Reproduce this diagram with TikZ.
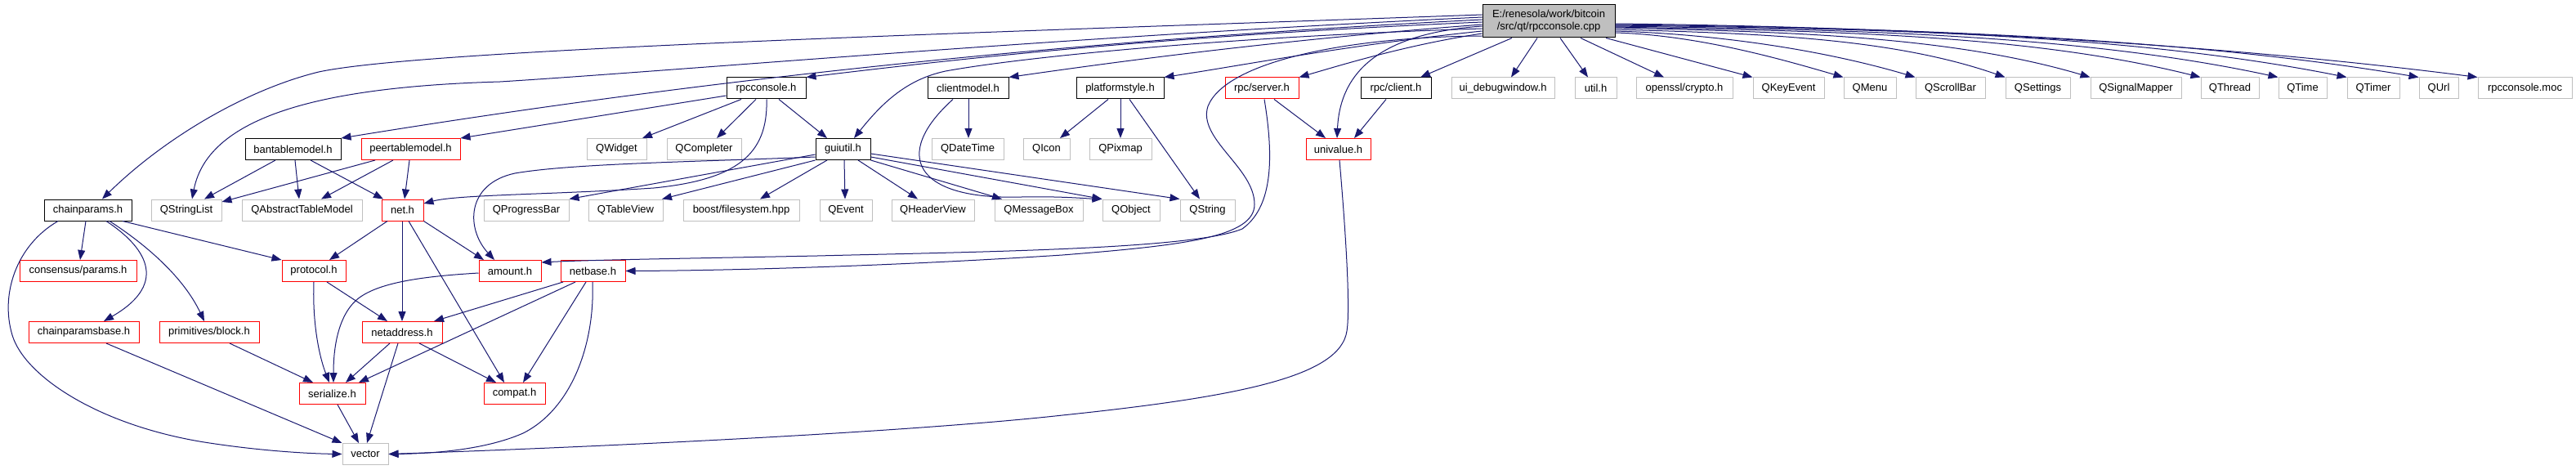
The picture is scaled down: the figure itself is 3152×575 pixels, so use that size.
\documentclass[tikz,border=0pt]{standalone}
\usepackage{fontspec}
\setmainfont{Liberation Sans}
\usetikzlibrary{arrows.meta}
\definecolor{edgec}{HTML}{191970}
\definecolor{grayb}{HTML}{BFBFBF}
\definecolor{redb}{HTML}{FF0000}
\tikzset{
  nd/.style={draw, rectangle, inner sep=0pt, minimum height=26pt, line width=1pt,
    font=\fontsize{13}{15}\selectfont, text=black, fill=white},
  gn/.style={nd, draw=grayb},
  bn/.style={nd, draw=black},
  rn/.style={nd, draw=redb},
  ed/.style={draw=edgec, line width=1pt, -{Triangle[length=12pt,width=9pt]}},
}
\begin{document}
\begin{tikzpicture}[x=1pt, y=-1pt]
\fill[white] (0,0) rectangle (3152,575);
\useasboundingbox (0,0) rectangle (3152,575);
% row 0
\node[bn, fill=grayb, minimum width=162pt, minimum height=40pt, align=center] (main) at (1895,26) {E:/renesola/work/bitcoin\\/src/qt/rpcconsole.cpp};
% row 1
\node[bn, minimum width=97pt] (rpcconsole) at (937.5,108) {rpcconsole.h};
\node[bn, minimum width=99pt] (clientmodel) at (1184.5,108) {clientmodel.h};
\node[bn, minimum width=107pt] (platformstyle) at (1370.5,108) {platformstyle.h};
\node[rn, minimum width=90pt] (rpcserver) at (1544,108) {rpc/server.h};
\node[bn, minimum width=86pt] (rpcclient) at (1708,108) {rpc/client.h};
\node[gn, minimum width=126pt] (uidebug) at (1839,108) {ui\_debugwindow.h};
\node[gn, minimum width=51pt] (util) at (1952.5,108) {util.h};
\node[gn, minimum width=118pt] (openssl) at (2061,108) {openssl/crypto.h};
\node[gn, minimum width=87pt] (qkeyevent) at (2188.5,108) {QKeyEvent};
\node[gn, minimum width=64pt] (qmenu) at (2288,108) {QMenu};
\node[gn, minimum width=85pt] (qscrollbar) at (2386.5,108) {QScrollBar};
\node[gn, minimum width=79pt] (qsettings) at (2493.5,108) {QSettings};
\node[gn, minimum width=111pt] (qsignalmapper) at (2613.5,108) {QSignalMapper};
\node[gn, minimum width=71pt] (qthread) at (2728.5,108) {QThread};
\node[gn, minimum width=59pt] (qtime) at (2817.5,108) {QTime};
\node[gn, minimum width=64pt] (qtimer) at (2904,108) {QTimer};
\node[gn, minimum width=48pt] (qurl) at (2984,108) {QUrl};
\node[gn, minimum width=115pt] (moc) at (3089.5,108) {rpcconsole.moc};
% row 2
\node[bn, minimum width=117pt] (bantable) at (358.5,182.5) {bantablemodel.h};
\node[rn, minimum width=121pt] (peertable) at (502.5,182.5) {peertablemodel.h};
\node[gn, minimum width=73pt] (qwidget) at (754.5,182.5) {QWidget};
\node[gn, minimum width=91pt] (qcompleter) at (861.5,182.5) {QCompleter};
\node[bn, minimum width=67pt] (guiutil) at (1031.5,182.5) {guiutil.h};
\node[gn, minimum width=88pt] (qdatetime) at (1184,182.5) {QDateTime};
\node[gn, minimum width=57pt] (qicon) at (1280.5,182.5) {QIcon};
\node[gn, minimum width=76pt] (qpixmap) at (1371,182.5) {QPixmap};
\node[rn, minimum width=79pt] (univalue) at (1637.5,182.5) {univalue.h};
% row 3
\node[bn, minimum width=107pt] (chainparams) at (107.5,257) {chainparams.h};
\node[gn, minimum width=86pt] (qstringlist) at (228,257) {QStringList};
\node[gn, minimum width=147pt] (qatm) at (369.5,257) {QAbstractTableModel};
\node[rn, minimum width=51pt] (net) at (492.5,257) {net.h};
\node[gn, minimum width=104pt] (qprogressbar) at (644,257) {QProgressBar};
\node[gn, minimum width=91pt] (qtableview) at (765.5,257) {QTableView};
\node[gn, minimum width=142pt] (boost) at (907,257) {boost/filesystem.hpp};
\node[gn, minimum width=64pt] (qevent) at (1035,257) {QEvent};
\node[gn, minimum width=101pt] (qheaderview) at (1141.5,257) {QHeaderView};
\node[gn, minimum width=108pt] (qmessagebox) at (1271,257) {QMessageBox};
\node[gn, minimum width=70pt] (qobject) at (1384,257) {QObject};
\node[gn, minimum width=67pt] (qstring) at (1477.5,257) {QString};
% row 4
\node[rn, minimum width=143pt] (consensus) at (95.5,331.5) {consensus/params.h};
\node[rn, minimum width=78pt] (protocol) at (384,331.5) {protocol.h};
\node[rn, minimum width=76pt] (amount) at (624,331.5) {amount.h};
\node[rn, minimum width=79pt] (netbase) at (725.5,331.5) {netbase.h};
% row 5
\node[rn, minimum width=135pt] (chainparamsbase) at (102.5,406.5) {chainparamsbase.h};
\node[rn, minimum width=122pt] (primblock) at (256,406.5) {primitives/block.h};
\node[rn, minimum width=98pt] (netaddress) at (492,406.5) {netaddress.h};
% row 6
\node[rn, minimum width=81pt] (serialize) at (406.5,481.5) {serialize.h};
\node[rn, minimum width=75pt] (compat) at (629.5,481.5) {compat.h};
% row 7
\node[gn, minimum width=56pt] (vector) at (447,555.5) {vector};

% edges from main, left side
\draw[ed] (main.west |- 0,18) .. controls (1200,40) and (520,60) .. (390,88) .. controls (300,110) and (200,170) .. (125,0 |- chainparams.north);
\draw[ed] (main.west |- 0,21) .. controls (1300,45) and (850,85) .. (612,100) .. controls (400,106) and (255,140) .. (235,0 |- qstringlist.north);
\draw[ed] (main.west |- 0,24) .. controls (1200,55) and (750,115) .. (bantable.north east);
\draw[ed] (main.west |- 0,27) .. controls (1400,45) and (1150,75) .. (rpcconsole.north east);
\draw[ed] (main.west |- 0,30) .. controls (1550,50) and (1350,78) .. (clientmodel.north east);
\draw[ed] (main.west |- 0,32) .. controls (1700,40) and (1640,80) .. (1636,0 |- univalue.north);
\draw[ed] (main.west |- 0,35) .. controls (1500,45) and (1250,70) .. (1157,87) .. controls (1110,97) and (1080,125) .. (1045,0 |- guiutil.north);
\draw[ed] (main.west |- 0,38) .. controls (1650,55) and (1520,80) .. (platformstyle.north east);
\draw[ed] (main.west |- 0,41) .. controls (1720,55) and (1640,80) .. (rpcserver.north east);
\draw[ed] (main.west |- 0,44) .. controls (1650,45) and (1500,75) .. (1478,130) .. controls (1465,170) and (1535,205) .. (1535,250) .. controls (1535,290) and (1450,300) .. (1300,312) .. controls (1100,325) and (900,331) .. (netbase.east);
% edges from main, bottom
\draw[ed] (1850,0 |- main.south) -- (1738,0 |- rpcclient.north);
\draw[ed] (1881,0 |- main.south) -- (1849,0 |- uidebug.north);
\draw[ed] (1909,0 |- main.south) -- (1943,0 |- util.north);
\draw[ed] (1934,0 |- main.south) -- (2036,0 |- openssl.north);
\draw[ed] (1965,0 |- main.south) -- (qkeyevent.north west);
% edges from main, right side
\draw[ed] (main.east |- 0,40) .. controls (2074,43) and (2172,70) .. (qmenu.north west);
\draw[ed] (main.east |- 0,38) .. controls (2105,42) and (2234,62) .. (qscrollbar.north west);
\draw[ed] (main.east |- 0,36) .. controls (2143,41) and (2311,45) .. (qsettings.north west);
\draw[ed] (main.east |- 0,34) .. controls (2180,39) and (2383,43) .. (qsignalmapper.north west);
\draw[ed] (main.east |- 0,33) .. controls (2227,38) and (2478,41) .. (qthread.north west);
\draw[ed] (main.east |- 0,32) .. controls (2260,36) and (2544,42) .. (qtime.north west);
\draw[ed] (main.east |- 0,31) .. controls (2290,35) and (2603,41) .. (qtimer.north west);
\draw[ed] (main.east |- 0,30) .. controls (2320,34) and (2665,45) .. (qurl.north west);
\draw[ed] (main.east |- 0,29) .. controls (2346,33) and (2715,54) .. (moc.north west);
% row 1 -> lower
\draw[ed] (907,0 |- rpcconsole.south) -- (786,0 |- qwidget.north);
\draw[ed] (925,0 |- rpcconsole.south) -- (877,0 |- qcompleter.north);
\draw[ed] (953,0 |- rpcconsole.south) -- (1012,0 |- guiutil.north);
\draw[ed] (rpcconsole.west |- 0,117) -- (peertable.north east);
\draw[ed] (938,0 |- rpcconsole.south) .. controls (940,190) and (900,220) .. (800,230) .. controls (680,238) and (560,238) .. (net.east |- 0,249);
\draw[ed] (1185,0 |- clientmodel.south) -- (1185,0 |- qdatetime.north);
\draw[ed] (1166,0 |- clientmodel.south) .. controls (1090,190) and (1120,245) .. (1250,241) .. controls (1300,240) and (1330,243) .. (qobject.north west);
\draw[ed] (1356,0 |- platformstyle.south) -- (1297,0 |- qicon.north);
\draw[ed] (1371,0 |- platformstyle.south) -- (1371,0 |- qpixmap.north);
\draw[ed] (1382,0 |- platformstyle.south) -- (1468,0 |- qstring.north);
\draw[ed] (1559,0 |- rpcserver.south) -- (1622,0 |- univalue.north);
\draw[ed] (1547,0 |- rpcserver.south) .. controls (1560,200) and (1555,255) .. (1520,280) .. controls (1460,305) and (1200,308) .. (1000,313) .. controls (850,316) and (720,318) .. (amount.east |- 0,321);
\draw[ed] (1696,0 |- rpcclient.south) -- (1657,0 |- univalue.north);
% row 2 -> lower
\draw[ed] (337,0 |- bantable.south) -- (250,0 |- qstringlist.north);
\draw[ed] (361,0 |- bantable.south) -- (366,0 |- qatm.north);
\draw[ed] (380,0 |- bantable.south) -- (469,0 |- net.north);
\draw[ed] (459,0 |- peertable.south) -- (qstringlist.east |- 0,247);
\draw[ed] (481,0 |- peertable.south) -- (393,0 |- qatm.north);
\draw[ed] (501,0 |- peertable.south) -- (495,0 |- net.north);
\draw[ed] (guiutil.west |- 0,189) -- (qprogressbar.north east);
\draw[ed] (guiutil.south west) -- (810,0 |- qtableview.north);
\draw[ed] (1012,0 |- guiutil.south) -- (930,0 |- boost.north);
\draw[ed] (1033,0 |- guiutil.south) -- (1034,0 |- qevent.north);
\draw[ed] (1050,0 |- guiutil.south) -- (1123,0 |- qheaderview.north);
\draw[ed] (guiutil.south east) -- (1226,0 |- qmessagebox.north);
\draw[ed] (guiutil.east |- 0,192) -- (qobject.north west);
\draw[ed] (guiutil.east |- 0,188) -- (qstring.north west);
\draw[ed] (guiutil.west |- 0,192) .. controls (850,198) and (700,200) .. (630,212) .. controls (570,225) and (570,280) .. (605,0 |- amount.north);
\draw[ed] (1639,0 |- univalue.south) .. controls (1648,300) and (1652,380) .. (1648,405) .. controls (1640,460) and (1520,485) .. (1300,508) .. controls (1100,530) and (700,548) .. (vector.east);
% row 3 -> lower
\draw[ed] (71,0 |- chainparams.south) .. controls (20,300) and (0,360) .. (15,410) .. controls (30,460) and (120,520) .. (250,541) .. controls (320,552) and (380,555) .. (vector.west);
\draw[ed] (105,0 |- chainparams.south) -- (98,0 |- consensus.north);
\draw[ed] (130,0 |- chainparams.south) .. controls (175,300) and (210,345) .. (127,0 |- chainparamsbase.north);
\draw[ed] (134,0 |- chainparams.south) .. controls (180,300) and (225,340) .. (250,0 |- primblock.north);
\draw[ed] (150,0 |- chainparams.south) -- (protocol.north west);
\draw[ed] (474,0 |- net.south) -- (403,0 |- protocol.north);
\draw[ed] (492,0 |- net.south) -- (492,0 |- netaddress.north);
\draw[ed] (500,0 |- net.south) -- (617,0 |- compat.north);
\draw[ed] (net.south east) -- (592,0 |- amount.north);
% row 4 -> lower
\draw[ed] (384,0 |- protocol.south) .. controls (382,400) and (392,440) .. (403,0 |- serialize.north);
\draw[ed] (400,0 |- protocol.south) -- (474,0 |- netaddress.north);
\draw[ed] (amount.west |- 0,334) .. controls (520,338) and (460,345) .. (435,368) .. controls (412,390) and (408,430) .. (408,0 |- serialize.north);
\draw[ed] (689,0 |- netbase.south) -- (531,0 |- netaddress.north);
\draw[ed] (704,0 |- netbase.south) -- (439,0 |- serialize.north);
\draw[ed] (717,0 |- netbase.south) -- (640,0 |- compat.north);
\draw[ed] (725,0 |- netbase.south) .. controls (728,420) and (700,500) .. (640,530) .. controls (590,552) and (520,555) .. (vector.east);
% row 5 -> lower
\draw[ed] (477,0 |- netaddress.south) -- (423,0 |- serialize.north);
\draw[ed] (487,0 |- netaddress.south) -- (449,0 |- vector.north);
\draw[ed] (513,0 |- netaddress.south) -- (607,0 |- compat.north);
\draw[ed] (130,0 |- chainparamsbase.south) -- (vector.north west);
\draw[ed] (281,0 |- primblock.south) -- (383,0 |- serialize.north);
% row 6 -> lower
\draw[ed] (413,0 |- serialize.south) -- (439,0 |- vector.north);
\end{tikzpicture}
\end{document}
